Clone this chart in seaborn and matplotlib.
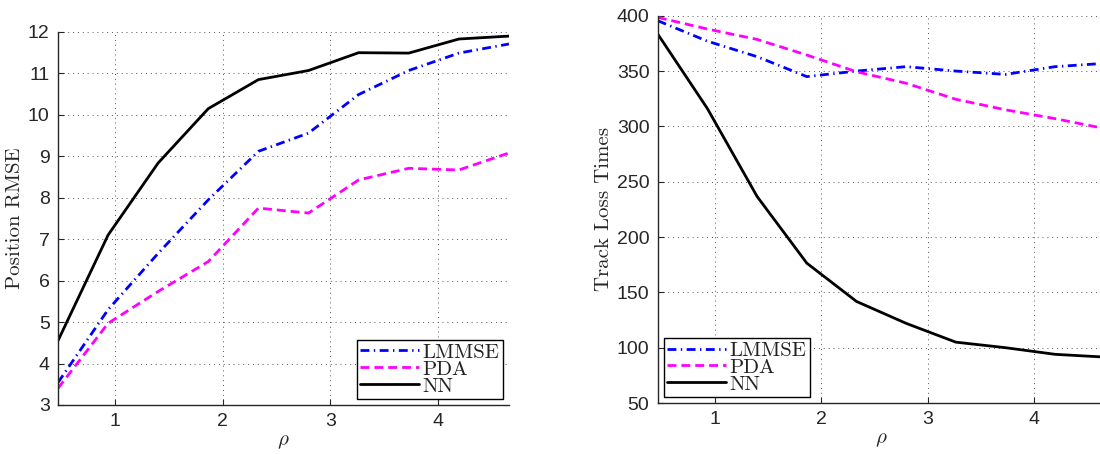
import numpy as np
import pandas as pd
import matplotlib
matplotlib.use("Agg")
import matplotlib.pyplot as plt
import seaborn as sns

# values
rho = [0.466, 0.932, 1.398, 1.864, 2.33, 2.796, 3.262, 3.728, 4.194, 4.66]

rmse_lmmse = [3.54, 5.3, 6.66, 7.95, 9.12, 9.56, 10.49, 11.07, 11.49, 11.71]
rmse_pda = [3.4, 4.97, 5.74, 6.46, 7.75, 7.63, 8.43, 8.71, 8.67, 9.08]
rmse_nn = [4.55, 7.1, 8.84, 10.15, 10.85, 11.07, 11.5, 11.49, 11.83, 11.9]

loss_lmmse = [395.5, 377, 363, 345, 350, 354, 350, 347, 354, 357]
loss_pda = [398.5, 388, 378.6, 364.5, 349.4, 339, 324.5, 315, 307, 298]
loss_nn = [383.4, 316, 236.6, 176.4, 141.8, 122, 105, 100, 94, 91.5]

methods = ["LMMSE", "PDA", "NN"]
colors = {"LMMSE": "#0000ff", "PDA": "#ff00ff", "NN": "#000000"}
styles = {"LMMSE": (0, (3.2, 1.6, 0.5, 1.6)), "PDA": (0, (3.2, 1.8)), "NN": "-"}

sns.set_style("ticks")
plt.rcParams["font.family"] = ["Liberation Sans", "DejaVu Sans"]
plt.rcParams["mathtext.fontset"] = "cm"
plt.rcParams["xtick.direction"] = "in"
plt.rcParams["ytick.direction"] = "in"

fig = plt.figure(figsize=(11, 4.54), dpi=100)
ax1 = fig.add_axes([0.0527, 0.108, 0.41, 0.8216])
ax2 = fig.add_axes([0.598, 0.1123, 0.4064, 0.853])


def draw(ax, series, ylabel):
    for name, vals in zip(methods, series):
        df = pd.DataFrame({"rho": rho, "val": vals})
        sns.lineplot(data=df, x="rho", y="val", ax=ax, color=colors[name],
                     linewidth=2.0, label=name)
        ax.lines[-1].set_linestyle(styles[name])
    ax.set_xlim(0.466, 4.66)
    ax.set_xticks([1, 2, 3, 4])
    ax.grid(True, linestyle=(0, (1, 4)), color="#555555", linewidth=0.7)
    for s in ["top", "right"]:
        ax.spines[s].set_visible(False)
    for s in ["left", "bottom"]:
        ax.spines[s].set_linewidth(1.0)
    ax.tick_params(labelsize=14, length=4, width=0.8, pad=6)
    ax.set_xlabel(r"$\rho$", fontsize=15, labelpad=1)
    ax.set_ylabel(ylabel, fontsize=15, family="cmr10", labelpad=3)


draw(ax1, [rmse_lmmse, rmse_pda, rmse_nn], "Position RMSE")
ax1.set_ylim(3, 12)
ax1.set_yticks(range(3, 13))

draw(ax2, [loss_lmmse, loss_pda, loss_nn], "Track Loss Times")
ax2.set_ylim(50, 400)
ax2.set_yticks(range(50, 401, 50))

for ax, loc in [(ax1, "lower right"), (ax2, "lower left")]:
    leg = ax.legend(loc=loc, prop={"family": "cmr10", "size": 15},
                    handlelength=2.8, labelspacing=-0.08, borderpad=0.15,
                    handletextpad=0.2, borderaxespad=0.3, fancybox=False,
                    framealpha=1)
    leg.get_frame().set_edgecolor("black")
    leg.get_frame().set_linewidth(1.0)
    for t in leg.get_texts():
        t.set_color("#222222")

fig.savefig("out.png", dpi=100)
